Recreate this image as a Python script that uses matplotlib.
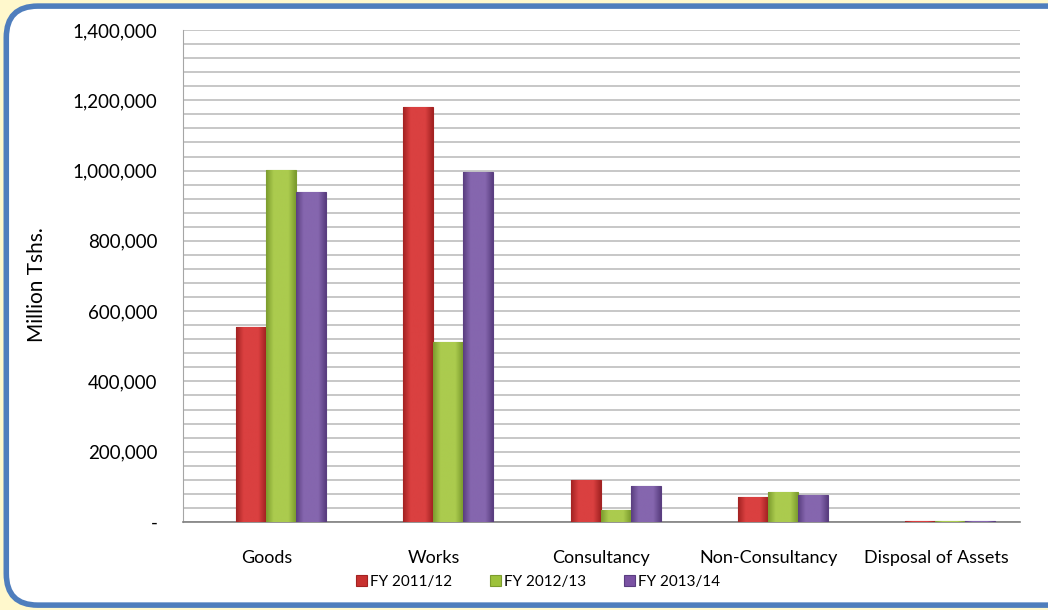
import numpy as np
import matplotlib.pyplot as plt
from matplotlib.patches import FancyBboxPatch
from matplotlib.colors import LinearSegmentedColormap
from matplotlib.ticker import FuncFormatter, MultipleLocator

# Procurement values by category (Million Tshs.)
categories = ['Goods', 'Works', 'Consultancy', 'Non-Consultancy', 'Disposal of Assets']
fy_2011 = [555000, 1180000, 119000, 71000, 2500]
fy_2012 = [1003000, 512000, 34000, 85000, 2500]
fy_2013 = [940000, 996000, 102000, 77000, 2500]
series_names = ['FY 2011/12', 'FY 2012/13', 'FY 2013/14']

colors = ['#C8312F', '#9DC23B', '#7A52A3']
# (edge, centre) shades for the bar gradient
shades = [('#A32222', '#DA4040'), ('#7C9C2E', '#ABCB4E'), ('#5A3E80', '#8566AE')]

plt.rcParams['font.family'] = ['Lato', 'DejaVu Sans']

fig = plt.figure(figsize=(10.48, 6.10), dpi=100)
fig.patch.set_facecolor('#FFF8CC')

# rounded white panel with blue border
panel = FancyBboxPatch((0.006, 0.008), 1.05, 0.982,
                       boxstyle='round,pad=0,rounding_size=0.03',
                       transform=fig.transFigure, facecolor='white',
                       edgecolor='#4F7EBD', linewidth=4, zorder=-5,
                       mutation_aspect=1.72)
fig.patches.append(panel)

ax = fig.add_axes([0.1746, 0.1443, 0.7987, 0.8065])
ax.set_facecolor('white')
ax.set_zorder(2)

x = np.arange(len(categories))
w = 0.179
shift = 0.084  # bars sit slightly right of the category centres (3D depth look)
grad = np.abs(np.linspace(-1, 1, 64))[None, :]
for i, vals in enumerate([fy_2011, fy_2012, fy_2013]):
    bars = ax.bar(x + (i - 1) * w + shift, vals, width=w, color=colors[i],
                  edgecolor=shades[i][0], linewidth=0.8, label=series_names[i], zorder=3)
    cmap = LinearSegmentedColormap.from_list('b%d' % i, [shades[i][1], shades[i][1], shades[i][0]])
    for rect in bars:
        x0 = rect.get_x()
        im = ax.imshow(grad, extent=[x0, x0 + rect.get_width(), 0, rect.get_height()],
                       aspect='auto', cmap=cmap, vmin=0, vmax=1, zorder=3.5,
                       interpolation='bilinear')
        im.set_clip_path(rect)

ax.set_xlim(-0.5, len(categories) - 0.5)
ax.set_ylim(0, 1400000)
ax.yaxis.set_major_locator(MultipleLocator(200000))
ax.yaxis.set_minor_locator(MultipleLocator(40000))
ax.yaxis.set_major_formatter(FuncFormatter(lambda v, p: '-' if v == 0 else f'{int(v):,}'))
ax.grid(axis='y', which='both', color='#BDBDBD', linewidth=1.2, zorder=0)
ax.set_axisbelow(True)

ax.set_xticks(x)
ax.set_xticklabels(categories)
ax.tick_params(axis='x', length=0, pad=20, labelsize=13)
ax.tick_params(axis='y', which='both', length=0, pad=18.5, labelsize=13.5)

for s in ['top', 'right']:
    ax.spines[s].set_visible(False)
ax.spines['left'].set_color('#A6A6A6')
ax.spines['bottom'].set_color('#808080')
ax.spines['bottom'].set_linewidth(1.2)

ax.set_ylabel('Million Tshs.', fontsize=15)
ax.yaxis.set_label_coords(-0.163, 0.482)

ax.legend(loc='upper center', bbox_to_anchor=(0.424, -0.08), ncol=3,
          frameon=False, fontsize=11, handlelength=0.7, handleheight=0.7,
          columnspacing=2.5, handletextpad=0.2)

fig.savefig('out.png', dpi=100, facecolor=fig.get_facecolor())
